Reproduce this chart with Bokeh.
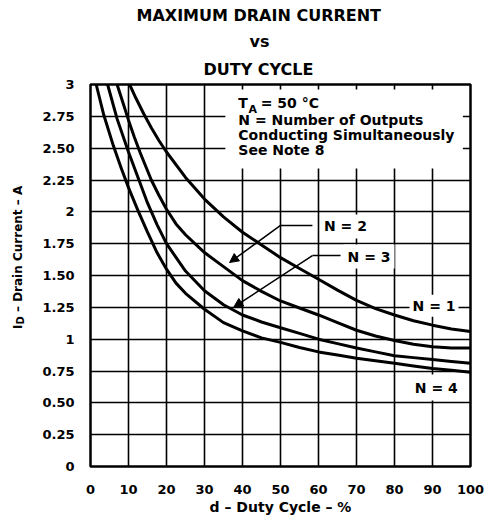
from bokeh.plotting import figure
from bokeh.models import (Range1d, FixedTicker, Label, BoxAnnotation, Arrow,
                          NormalHead, Title, Div)
from bokeh.layouts import row
from bokeh.embed import file_html
from bokeh.resources import INLINE

# ---------------- data ----------------
title_lines = ["MAXIMUM DRAIN CURRENT", "vs", "DUTY CYCLE"]
x_label = "d – Duty Cycle – %"

x_ticks = [0, 10, 20, 30, 40, 50, 60, 70, 80, 90, 100]
y_ticks = [0.0, 0.25, 0.5, 0.75, 1.0, 1.25, 1.5, 1.75, 2.0, 2.25, 2.5, 2.75, 3.0]
y_tick_labels = ["0", "0.25", "0.50", "0.75", "1", "1.25", "1.50", "1.75",
                 "2", "2.25", "2.50", "2.75", "3"]

# N = 1
d_n1 = [10.3, 12, 14, 16, 18, 20, 25, 30, 35, 40, 45, 50, 55, 60, 65, 70,
        75, 80, 85, 90, 95, 100]
i_n1 = [3.0, 2.89, 2.77, 2.66, 2.56, 2.47, 2.27, 2.10, 1.96, 1.84, 1.74, 1.64,
        1.555, 1.47, 1.385, 1.305, 1.24, 1.19, 1.145, 1.11, 1.08, 1.06]
# N = 2
d_n2 = [7, 8.5, 10, 11.5, 13, 14.5, 16, 18, 20, 22.5, 25, 30, 35, 40, 45, 50,
        55, 60, 65, 70, 75, 80, 85, 90, 95, 100]
i_n2 = [3.0, 2.86, 2.72, 2.59, 2.47, 2.36, 2.25, 2.13, 2.02, 1.905, 1.82, 1.68,
        1.57, 1.46, 1.375, 1.30, 1.245, 1.19, 1.13, 1.07, 1.025, 0.99, 0.96,
        0.94, 0.93, 0.93]
# N = 3
d_n3 = [4.5, 7, 10, 12.5, 15, 17.5, 20, 25, 30, 35, 40, 45, 50, 55, 60, 65,
        70, 75, 80, 85, 90, 95, 100]
i_n3 = [3.0, 2.73, 2.47, 2.27, 2.07, 1.90, 1.75, 1.535, 1.38, 1.27, 1.19, 1.135,
        1.09, 1.045, 1.0, 0.965, 0.93, 0.90, 0.87, 0.855, 0.84, 0.825, 0.81]
# N = 4
d_n4 = [1.5, 3.5, 6, 8, 10, 12.5, 15, 17.5, 20, 22.5, 25, 30, 35, 40, 45, 50,
        55, 60, 65, 70, 75, 80, 85, 90, 95, 100]
i_n4 = [3.0, 2.76, 2.52, 2.35, 2.19, 2.01, 1.84, 1.68, 1.55, 1.44, 1.36, 1.235,
        1.13, 1.065, 1.01, 0.975, 0.935, 0.90, 0.875, 0.85, 0.83, 0.81, 0.79,
        0.77, 0.755, 0.74]

FONT = "DejaVu Sans"

p = figure(width=451, height=517, x_range=Range1d(0, 100), y_range=Range1d(0, 3),
           output_backend="svg", toolbar_location=None, title=None,
           min_border_left=54, min_border_right=17, min_border_top=84,
           min_border_bottom=51)
p.background_fill_color = "white"
p.border_fill_color = "white"
p.outline_line_color = "black"
p.outline_line_width = 2.5

# titles: first added sits next to the frame
for text, standoff, offset in ((title_lines[2], 11, 113), (title_lines[1], 4, 159),
                               (title_lines[0], 6, 46)):
    t = Title(text=text, align="left", offset=offset, standoff=standoff,
              text_font=FONT, text_font_style="bold", text_font_size="16px",
              text_color="black")
    p.add_layout(t, "above")

p.xaxis.ticker = FixedTicker(ticks=x_ticks)
p.yaxis.ticker = FixedTicker(ticks=y_ticks)
p.yaxis.major_label_overrides = dict(zip(y_ticks, y_tick_labels))
for ax in (p.xaxis, p.yaxis):
    ax.axis_line_color = None
    ax.major_tick_line_color = None
    ax.minor_tick_line_color = None
    ax.major_label_text_font = FONT
    ax.major_label_text_font_style = "bold"
    ax.major_label_text_font_size = "13px"
    ax.major_label_text_color = "black"
p.xaxis.major_label_standoff = 12
p.yaxis.major_label_standoff = 10
p.xaxis.axis_label = x_label
p.xaxis.axis_label_text_font = FONT
p.xaxis.axis_label_text_font_style = "bold"
p.xaxis.axis_label_text_font_size = "14px"
p.xaxis.axis_label_text_color = "black"
p.xaxis.axis_label_standoff = 2

p.xgrid.ticker = FixedTicker(ticks=x_ticks)
p.ygrid.ticker = FixedTicker(ticks=y_ticks)
for g in (p.xgrid, p.ygrid):
    g.grid_line_color = "black"
    g.grid_line_width = 1.6
    g.grid_line_alpha = 1.0

# curves
for dd, ii in ((d_n1, i_n1), (d_n2, i_n2), (d_n3, i_n3), (d_n4, i_n4)):
    p.line(dd, ii, line_color="black", line_width=3, line_join="round")

# white box behind the note text
p.add_layout(BoxAnnotation(left=35.5, right=98.0, bottom=2.34, top=2.96,
                           fill_color="white", fill_alpha=1.0,
                           line_color=None))

def lab(x, y, text, size="14px", align="left", baseline="middle",
        bg=None, pad=0):
    kw = dict(x=x, y=y, text=text, text_font=FONT, text_font_style="bold",
              text_font_size=size, text_color="black", text_align=align,
              text_baseline=baseline)
    if bg is not None:
        kw.update(background_fill_color=bg, background_fill_alpha=1.0,
                  padding=pad)
    p.add_layout(Label(**kw))

# note text
lab(38.9, 2.851, "T")
lab(41.6, 2.805, "A", size="11px")
lab(44.8, 2.851, "= 50 °C")
lab(38.9, 2.725, "N = Number of Outputs")
lab(38.9, 2.603, "Conducting Simultaneously")
lab(38.9, 2.482, "See Note 8")

# leaders and arrows
p.line([58.4, 50.0], [1.893, 1.893], line_color="black", line_width=1.5)
p.add_layout(Arrow(x_start=50.0, y_start=1.893, x_end=36.6, y_end=1.602,
                   line_color="black", line_width=1.5,
                   end=NormalHead(size=9, fill_color="black",
                                  line_color="black")))
p.line([65.8, 58.4], [1.657, 1.657], line_color="black", line_width=1.5)
p.add_layout(Arrow(x_start=58.4, y_start=1.657, x_end=37.7, y_end=1.251,
                   line_color="black", line_width=1.5,
                   end=NormalHead(size=9, fill_color="black",
                                  line_color="black")))

# curve labels
lab(67.1, 1.885, "N = 2", align="center", bg="white", pad=4)
lab(73.3, 1.649, "N = 3", align="center", bg="white", pad=4)
lab(90.4, 1.262, "N = 1", align="center", bg="white", pad=3)
lab(91.0, 0.620, "N = 4", align="center", bg="white", pad=5)

# y axis label with subscript (rotated HTML text)
ylab_html = ('<div style="width:36px;height:517px;box-sizing:border-box;'
             'writing-mode:vertical-rl;transform:rotate(180deg);'
             'text-align:center;padding-right:11px;padding-top:3px;'
             "font-family:'DejaVu Sans';font-weight:bold;font-size:12px;"
             'line-height:14px;color:black;white-space:nowrap;">'
             'I<sub style="font-size:10px;">D</sub> – Drain Current – A</div>')
ydiv = Div(text=ylab_html, width=36, height=517, margin=0)

layout = row(ydiv, p)
open("out.html", "w").write(file_html(layout, INLINE))
